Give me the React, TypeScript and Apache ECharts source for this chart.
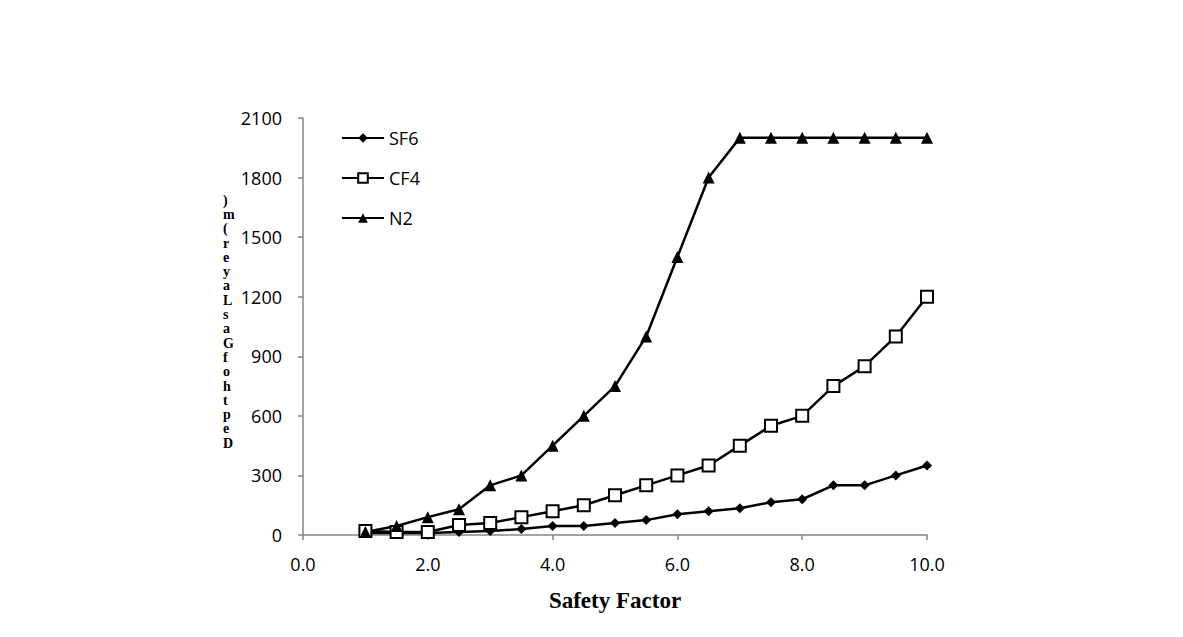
import React, { useEffect, useRef } from "react";
import * as echarts from "echarts";

const xValues = [1.0, 1.5, 2.0, 2.5, 3.0, 3.5, 4.0, 4.5, 5.0, 5.5, 6.0, 6.5, 7.0, 7.5, 8.0, 8.5, 9.0, 9.5, 10.0];
const sf6 = [10, 10, 10, 15, 20, 30, 45, 45, 60, 75, 105, 120, 135, 165, 180, 250, 250, 300, 350];
const cf4 = [20, 15, 15, 50, 60, 90, 120, 150, 200, 250, 300, 350, 450, 550, 600, 750, 850, 1000, 1200];
const n2 = [15, 45, 90, 130, 250, 300, 450, 600, 750, 1000, 1400, 1800, 2000, 2000, 2000, 2000, 2000, 2000, 2000];
const yLabelChars = [")", "m", "(", "r", "e", "y", "a", "L", "s", "a", "G", "f", "o", "h", "t", "p", "e", "D"];

const pair = (ys: number[]) => xValues.map((x, i) => [x, ys[i]]);

export default function App() {
  const ref = useRef<HTMLDivElement>(null);
  useEffect(() => {
    const chart = echarts.init(ref.current!, null, { renderer: "svg" });
    const axisLine = { lineStyle: { color: "#868686", width: 1.5 } };
    const labelFont = { color: "#000", fontSize: 18, fontFamily: "Open Sans" };
    const lineCommon = {
      type: "line",
      lineStyle: { color: "#000", width: 2.5 },
      itemStyle: { color: "#000" },
      emphasis: { disabled: true },
    };
    chart.setOption({
      animation: false,
      backgroundColor: "#fff",
      grid: { left: 303, right: 256, top: 118, bottom: 102, containLabel: false },
      legend: {
        orient: "vertical",
        left: 336,
        top: 124,
        itemWidth: 42,
        itemHeight: 12,
        itemGap: 22,
        textStyle: { ...labelFont },
        data: ["SF6", "CF4", "N2"],
      },
      xAxis: {
        type: "value",
        min: 0,
        max: 10,
        interval: 2,
        name: "Safety Factor",
        nameLocation: "middle",
        nameGap: 54,
        nameTextStyle: { color: "#000", fontSize: 23, fontWeight: "bold", fontFamily: "Liberation Serif" },
        axisLine: { show: true, ...axisLine },
        axisTick: { show: true, length: 5, lineStyle: { color: "#868686", width: 1.5 } },
        axisLabel: { ...labelFont, margin: 20, formatter: (v: number) => v.toFixed(1) },
        splitLine: { show: false },
      },
      yAxis: {
        type: "value",
        min: 0,
        max: 2100,
        interval: 300,
        axisLine: { show: true, ...axisLine },
        axisTick: { show: true, length: 5, lineStyle: { color: "#868686", width: 1.5 } },
        axisLabel: { ...labelFont, margin: 21, formatter: (v: number) => String(v) },
        splitLine: { show: false },
      },
      graphic: [
        {
          type: "text",
          left: 223,
          top: 193,
          style: {
            text: yLabelChars.join("\n"),
            fill: "#000",
            fontSize: 14,
            lineHeight: 14.3,
            fontWeight: "bold",
            fontFamily: "Liberation Serif",
            align: "center",
          },
        },
      ],
      series: [
        { ...lineCommon, name: "SF6", data: pair(sf6), symbol: "diamond", symbolSize: 10 },
        {
          ...lineCommon,
          name: "CF4",
          data: pair(cf4),
          symbol: "rect",
          symbolSize: 12,
          itemStyle: { color: "#fff", borderColor: "#000", borderWidth: 2 },
        },
        { ...lineCommon, name: "N2", data: pair(n2), symbol: "triangle", symbolSize: 12 },
      ],
    });
    return () => chart.dispose();
  }, []);
  return <div ref={ref} style={{ width: 1183, height: 637, margin: -8 }} />;
}
